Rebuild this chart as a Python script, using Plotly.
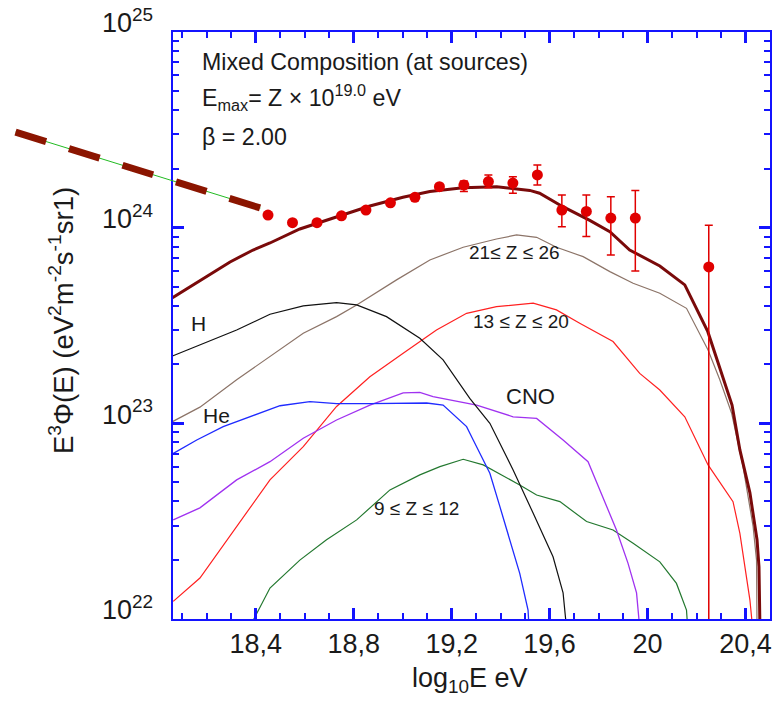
import plotly.graph_objects as go

W, H = 774, 701
FONT = "Liberation Sans, Arial, Helvetica, sans-serif"

# ---------------- axes ----------------
X_RANGE = [18.06, 20.5]          # log10 E
Y_RANGE = [22, 25]               # log10 of E^3 Phi
x_tickvals = [18.4, 18.8, 19.2, 19.6, 20.0, 20.4]
x_ticktext = ["18,4", "18,8", "19,2", "19,6", "20", "20,4"]
y_tickvals = [1e22, 1e23, 1e24, 1e25]
y_ticktext = ["10<sup>22</sup>", "10<sup>23</sup>", "10<sup>24</sup>", "10<sup>25</sup>"]

# ---------------- measured data points ----------------
pts_x = [18.45, 18.55, 18.65, 18.75, 18.85, 18.95, 19.05, 19.15]
pts_y = [1.16e24, 1.06e24, 1.06e24, 1.15e24, 1.23e24, 1.34e24, 1.43e24, 1.62e24]

err_x = [19.25, 19.35, 19.45, 19.55, 19.65, 19.75, 19.85, 19.95, 20.25]
err_y = [1.65e24, 1.72e24, 1.69e24, 1.86e24, 1.23e24, 1.21e24, 1.12e24, 1.12e24, 6.3e23]
err_plus = [0.08e24, 0.14e24, 0.13e24, 0.23e24, 0.24e24, 0.26e24, 0.32e24, 0.43e24, 0.40e24]
err_minus = [0.12e24, 0.12e24, 0.19e24, 0.21e24, 0.22e24, 0.31e24, 0.394e24, 0.52e24, 6.3e23]

# ---------------- model curves ----------------
total_x = [18.06, 18.172, 18.295, 18.389, 18.458, 18.58, 18.73, 18.866, 19.001, 19.111,
           19.246, 19.384, 19.519, 19.559, 19.654, 19.764, 19.846, 19.927, 20.05, 20.152,
           20.246, 20.345, 20.377, 20.418, 20.447, 20.455, 20.459]
total_y = [4.38e23, 5.34e23, 6.68e23, 7.69e23, 8.35e23, 9.85e23, 1.13e24, 1.29e24, 1.43e24, 1.53e24,
           1.60e24, 1.62e24, 1.55e24, 1.50e24, 1.28e24, 1.09e24, 9.54e23, 7.69e23, 6.37e23, 5.10e23,
           2.94e23, 1.24e23, 7.31e22, 4.41e22, 2.54e22, 1.85e22, 9e21]

h_x = [18.06, 18.186, 18.322, 18.458, 18.594, 18.73, 18.812, 18.934, 19.07, 19.165,
       19.274, 19.356, 19.451, 19.533, 19.614, 19.655, 19.669]
h_y = [2.21e23, 2.57e23, 3.00e23, 3.61e23, 3.98e23, 4.14e23, 4.03e23, 3.51e23, 2.72e23, 2.11e23,
       1.34e23, 1.0e23, 5.78e22, 3.47e22, 2.08e22, 1.36e22, 9e21]

he_x = [18.06, 18.159, 18.267, 18.39, 18.499, 18.621, 18.73, 18.866, 19.002, 19.098,
        19.165, 19.261, 19.288, 19.356, 19.397, 19.438, 19.478, 19.512, 19.516]
he_y = [6.98e22, 8.22e22, 9.62e22, 1.10e23, 1.23e23, 1.29e23, 1.26e23, 1.26e23, 1.27e23, 1.27e23,
        1.24e23, 9.62e22, 8.22e22, 5.56e22, 3.75e22, 2.54e22, 1.71e22, 1.11e22, 9e21]

cno_x = [18.063, 18.172, 18.322, 18.458, 18.594, 18.73, 18.866, 19.002, 19.07, 19.124,
         19.302, 19.451, 19.547, 19.655, 19.757, 19.805, 19.873, 19.92, 19.955, 19.968]
cno_y = [3.21e22, 3.70e22, 5.14e22, 6.37e22, 8.39e22, 1.04e23, 1.24e23, 1.43e23, 1.44e23, 1.37e23,
         1.24e23, 1.08e23, 1.06e23, 8.22e22, 6.37e22, 4.57e22, 2.85e22, 1.93e22, 1.36e22, 9e21]

mg_x = [18.383, 18.458, 18.58, 18.689, 18.812, 18.948, 19.07, 19.152, 19.247, 19.329,
        19.478, 19.547, 19.642, 19.751, 19.859, 19.941, 20.05, 20.118, 20.159, 20.164]
mg_y = [9.5e21, 1.44e22, 2.00e22, 2.54e22, 3.21e22, 4.57e22, 5.45e22, 6.01e22, 6.55e22, 6.13e22,
        4.84e22, 4.30e22, 3.98e22, 3.15e22, 2.85e22, 2.44e22, 1.96e22, 1.52e22, 1.11e22, 9e21]

si_x = [18.063, 18.172, 18.458, 18.594, 18.73, 18.866, 19.002, 19.138, 19.261, 19.383,
        19.533, 19.628, 19.723, 19.859, 19.968, 20.05, 20.152, 20.247, 20.349, 20.377,
        20.418, 20.429]
si_y = [1.23e22, 1.62e22, 5.14e22, 7.60e22, 1.22e23, 1.73e23, 2.28e23, 3.00e23, 3.65e23, 3.95e23,
        4.11e23, 3.80e23, 3.25e23, 2.62e23, 1.80e23, 1.48e23, 1.08e23, 6.13e22, 3.98e22, 2.74e22,
        1.25e22, 9e21]

fe_x = [18.06, 18.172, 18.322, 18.458, 18.594, 18.73, 18.812, 18.975, 19.111, 19.247,
        19.383, 19.465, 19.547, 19.628, 19.737, 19.846, 19.941, 20.05, 20.159, 20.247,
        20.295, 20.343, 20.39, 20.431, 20.445, 20.447]
fe_y = [1.02e23, 1.21e23, 1.67e23, 2.19e23, 2.89e23, 3.51e23, 4.03e23, 5.41e23, 6.84e23, 7.94e23,
        8.75e23, 9.18e23, 8.93e23, 7.94e23, 7.11e23, 5.96e23, 5.20e23, 4.62e23, 3.87e23, 2.37e23,
        1.67e23, 1.13e23, 6.01e22, 2.97e22, 2.00e22, 9e21]

# extrapolated low-energy spectrum (dashed, partly outside the frame)
ext_x = [17.419, 18.419]
ext_y = [3.08e24, 1.26e24]

# ---------------- figure geometry ----------------
L_PX, R_PX, T_PX, B_PX = 172.5, 770.0, 32.0, 619.0
xd = [L_PX / W, R_PX / W]
yd = [1 - B_PX / H, 1 - T_PX / H]
kx = (X_RANGE[1] - X_RANGE[0]) / (xd[1] - xd[0])
ky = (Y_RANGE[1] - Y_RANGE[0]) / (yd[1] - yd[0])
X2_RANGE = [X_RANGE[0] - xd[0] * kx, X_RANGE[1] + (1 - xd[1]) * kx]
Y2_RANGE = [Y_RANGE[0] - yd[0] * ky, Y_RANGE[1] + (1 - yd[1]) * ky]

fig = go.Figure()

def line(x, y, color, width):
    fig.add_trace(go.Scatter(x=x, y=y, mode="lines", line=dict(color=color, width=width),
                             showlegend=False, hoverinfo="skip"))

line(fe_x, fe_y, "#8c7468", 1.2)
line(si_x, si_y, "#ff2020", 1.2)
line(mg_x, mg_y, "#23782f", 1.2)
line(cno_x, cno_y, "#a032f0", 1.3)
line(he_x, he_y, "#1f2bff", 1.3)
line(h_x, h_y, "#111111", 1.2)
line(total_x, total_y, "#7a0a0a", 3)

RED = "#e00000"
fig.add_trace(go.Scatter(x=err_x, y=err_y, mode="markers",
                         marker=dict(color=RED, size=11),
                         error_y=dict(type="data", array=err_plus, arrayminus=err_minus,
                                      color=RED, thickness=1.5, width=4),
                         showlegend=False, hoverinfo="skip"))
fig.add_trace(go.Scatter(x=pts_x, y=pts_y, mode="markers",
                         marker=dict(color=RED, size=11),
                         showlegend=False, hoverinfo="skip"))

# dashed extrapolation on full-page overlay axes
fig.add_trace(go.Scatter(x=ext_x, y=ext_y, mode="lines", xaxis="x2", yaxis="y2",
                         line=dict(color="#22bb22", width=1),
                         showlegend=False, hoverinfo="skip"))
fig.add_trace(go.Scatter(x=ext_x, y=ext_y, mode="lines", xaxis="x2", yaxis="y2",
                         line=dict(color="#8b1500", width=7, dash="32px,24px"),
                         showlegend=False, hoverinfo="skip"))

BLUE = "#1414ff"
TXT = "#1a1a1a"
axis_common = dict(showline=True, linecolor=BLUE, linewidth=2, mirror="allticks",
                   ticks="inside", tickcolor=BLUE, tickwidth=2.5, ticklen=11,
                   showgrid=False, zeroline=False, automargin=False, layer="above traces",
                   tickfont=dict(family=FONT, size=27, color=TXT))

minor_y = [k * 10.0 ** e for e in (22, 23, 24) for k in range(2, 10)]

fig.update_layout(
    width=W, height=H,
    margin=dict(l=0, r=0, t=0, b=0, pad=0, autoexpand=False),
    paper_bgcolor="white", plot_bgcolor="rgba(0,0,0,0)",
    xaxis=dict(domain=xd, range=X_RANGE, tickmode="array", tickvals=x_tickvals,
               ticktext=x_ticktext, anchor="y",
               minor=dict(ticks="inside", ticklen=6, tickcolor=BLUE, tickwidth=2,
                          dtick=0.1, tick0=18.0, showgrid=False),
               **axis_common),
    yaxis=dict(domain=yd, type="log", range=Y_RANGE, tickmode="array",
               tickvals=y_tickvals, ticktext=y_ticktext, anchor="x",
               minor=dict(ticks="inside", ticklen=6, tickcolor=BLUE, tickwidth=2,
                          tickmode="array", tickvals=minor_y, showgrid=False),
               ticklabelstandoff=12, ticklabelshift=-9,
               **axis_common),
    xaxis2=dict(domain=[0, 1], range=X2_RANGE, visible=False, anchor="y2", automargin=False),
    yaxis2=dict(domain=[0, 1], type="log", range=Y2_RANGE, visible=False, anchor="x2",
                automargin=False),
)

def px(x, y):
    return x / W, 1 - y / H

def note(text, x, y, size, xanchor="center", angle=0):
    xp, yp = px(x, y)
    fig.add_annotation(text=text, x=xp, y=yp, xref="paper", yref="paper",
                       showarrow=False, xanchor=xanchor, yanchor="middle",
                       textangle=angle, font=dict(family=FONT, size=size, color=TXT))

note("Mixed Composition (at sources)", 200, 62, 23.2, xanchor="left")
note("E<sub>max</sub>= Z × 10<sup>19.0</sup> eV", 200, 97, 23.2, xanchor="left")
note("β = 2.00", 200, 137, 23.2, xanchor="left")
note("H", 198, 323, 21)
note("He", 217, 415, 21)
note("CNO", 530, 397, 22)
note("9 ≤ Z ≤ 12", 417, 508, 19)
note("13 ≤ Z ≤ 20", 521, 321, 19)
note("21≤ Z ≤ 26", 514, 252, 19)
note("E<sup>3</sup>Φ(E) (eV<sup>2</sup>m<sup>-2</sup>s<sup>-1</sup>sr1)", 61, 321, 27.5, angle=-90)
note("log<sub>10</sub>E eV", 470, 680, 27)

fig.write_html("out.html")
